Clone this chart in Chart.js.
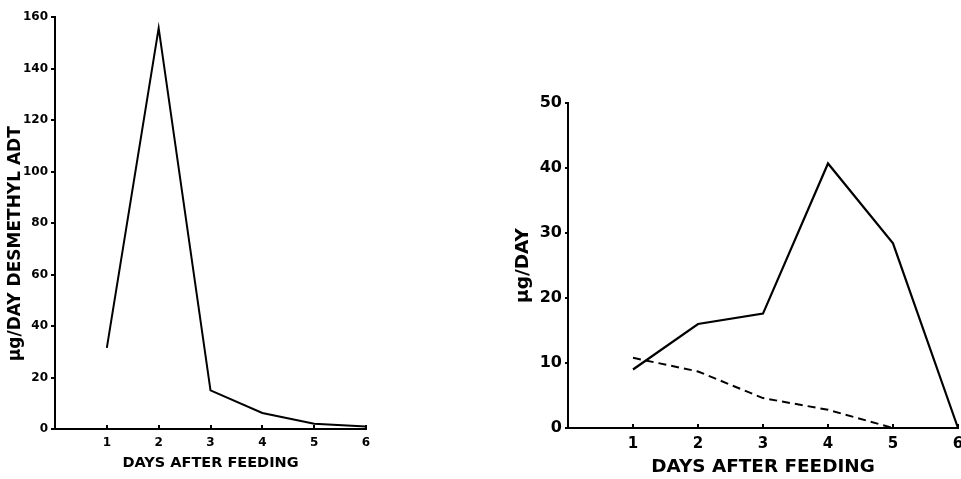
<!DOCTYPE html>
<html>
<head>
<meta charset="utf-8">
<script src="https://cdn.jsdelivr.net/npm/chart.js@4.4.0/dist/chart.umd.min.js"></script>
<style>
  body { margin: 0; background: #fff; }
  #left { position: absolute; left: 0; top: 0; }
  #right { position: absolute; left: 500px; top: 0; }
</style>
</head>
<body>
<canvas id="left" width="380" height="479"></canvas>
<canvas id="right" width="461" height="479"></canvas>
<script>
const days = [1, 2, 3, 4, 5, 6];
const desmethylAdt = [31.5, 155.7, 15, 6.2, 2, 1];
const solidSeries = [9, 16, 17.6, 40.7, 28.4, 0];
const dashedDays = [1, 2, 3, 4, 5];
const dashedSeries = [10.8, 8.7, 4.6, 2.8, 0];

const FONT = 'DejaVu Sans, Verdana, sans-serif';

function pts(xs, ys) {
    return xs.map((x, i) => ({ x: x, y: ys[i] }));
}

function fixSize(size) {
    return function (scale) {
        if (scale.isHorizontal()) {
            scale.height = size;
        } else {
            scale.width = size;
        }
        scale.paddingLeft = 0;
        scale.paddingRight = 0;
        scale.paddingTop = 0;
        scale.paddingBottom = 0;
    };
}

function makeChart(id, cfg) {
    const ctx = document.getElementById(id).getContext('2d');
    return new Chart(ctx, {
        type: 'line',
        data: { datasets: cfg.datasets },
        options: {
            responsive: false,
            animation: false,
            layout: { padding: cfg.padding },
            plugins: { legend: { display: false }, tooltip: { enabled: false } },
            elements: { point: { radius: 0 }, line: { tension: 0 } },
            scales: {
                x: {
                    type: 'linear',
                    min: 0,
                    max: 6,
                    afterFit: fixSize(cfg.xHeight),
                    border: { color: '#000', width: 2 },
                    // negative length -> small tick marks pointing up into the plot
                    grid: { drawOnChartArea: false, color: '#000', lineWidth: 2, tickLength: -4 },
                    ticks: {
                        stepSize: 1,
                        color: '#000',
                        padding: 11,
                        maxRotation: 0,
                        font: { family: FONT, size: cfg.xTickSize, weight: 'bold' },
                        callback: v => v === 0 ? '' : v
                    },
                    title: {
                        display: true,
                        text: 'DAYS AFTER FEEDING',
                        color: '#000',
                        padding: { bottom: cfg.xTitlePad },
                        font: { family: FONT, size: cfg.xTitleSize, weight: 'bold' }
                    }
                },
                y: {
                    min: 0,
                    max: cfg.yMax,
                    afterFit: fixSize(cfg.yWidth),
                    border: { color: '#000', width: 2 },
                    grid: { drawOnChartArea: false, color: '#000', lineWidth: 2, tickLength: cfg.yTick },
                    ticks: {
                        stepSize: cfg.yStep,
                        color: '#000',
                        padding: 3,
                        font: { family: FONT, size: cfg.yTickSize, weight: 'bold' }
                    },
                    title: {
                        display: true,
                        text: cfg.yTitle,
                        color: '#000',
                        padding: { top: cfg.yTitlePad },
                        font: { family: FONT, size: cfg.yTitleSize, weight: 'bold' }
                    }
                }
            }
        }
    });
}

makeChart('left', {
    padding: { top: 17, right: 14, left: 0, bottom: 0 },
    xHeight: 50,
    yWidth: 55,
    yMax: 160,
    yStep: 20,
    yTick: 4,
    xTickSize: 12,
    yTickSize: 12,
    xTitleSize: 14.5,
    xTitlePad: 7,
    // trailing spaces push the rotated title down a little, as in the original
    yTitle: 'µg/DAY DESMETHYL ADT' + '\u00a0'.repeat(7),
    yTitleSize: 17,
    yTitlePad: 5,
    datasets: [{
        data: pts(days, desmethylAdt),
        borderColor: '#000',
        borderWidth: 2,
        clip: false
    }]
});

makeChart('right', {
    padding: { top: 103, right: 3, left: 0, bottom: 0 },
    xHeight: 51,
    yWidth: 68,
    yMax: 50,
    yStep: 10,
    yTick: 3,
    xTickSize: 15,
    yTickSize: 16,
    xTitleSize: 18.4,
    xTitlePad: 1,
    yTitle: 'µg/DAY',
    yTitleSize: 18.5,
    yTitlePad: 12,
    datasets: [{
        data: pts(days, solidSeries),
        borderColor: '#000',
        borderWidth: 2.2,
        clip: false
    }, {
        data: pts(dashedDays, dashedSeries),
        borderColor: '#000',
        borderWidth: 2,
        borderDash: [8, 5],
        clip: false
    }]
});
</script>
</body>
</html>
